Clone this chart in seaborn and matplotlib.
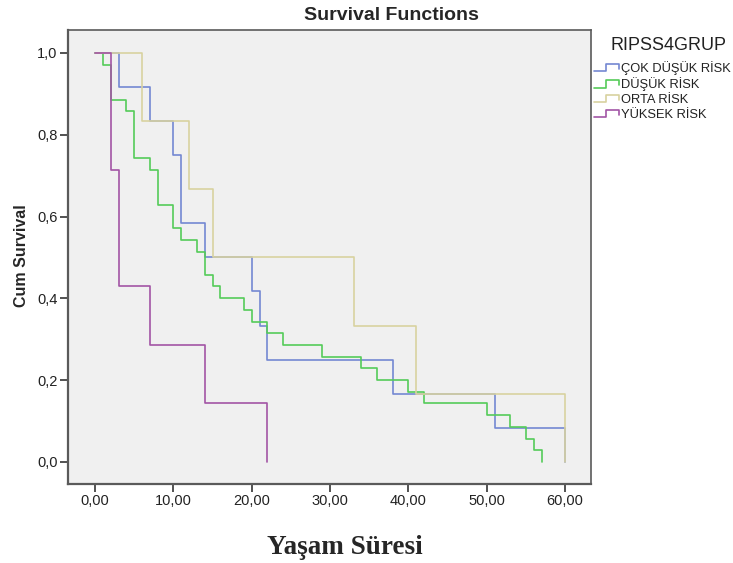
import matplotlib
matplotlib.use("Agg")
import matplotlib.pyplot as plt
from matplotlib.lines import Line2D
from matplotlib.legend_handler import HandlerBase
import seaborn as sns
import pandas as pd

# ---- data ----
groups = ["ÇOK DÜŞÜK RİSK", "DÜŞÜK RİSK", "ORTA RİSK", "YÜKSEK RİSK"]

cok_dusuk_time = [0, 3, 7, 10, 11, 14, 20, 21, 22, 38, 51, 60]
cok_dusuk_surv = [1.0, 0.917, 0.833, 0.750, 0.583, 0.500, 0.417, 0.333, 0.250, 0.167, 0.083, 0.0]

dusuk_time = [0, 1, 2, 4, 5, 7, 8, 10, 11, 13, 14, 15, 16, 19, 20, 22, 24, 29, 34, 36,
              40, 42, 50, 53, 55, 56, 57]
dusuk_surv = [1.0, 0.971, 0.886, 0.857, 0.743, 0.714, 0.629, 0.571, 0.543, 0.514, 0.457,
              0.429, 0.400, 0.371, 0.343, 0.314, 0.286, 0.257, 0.229, 0.200, 0.171, 0.143,
              0.114, 0.086, 0.057, 0.029, 0.0]

orta_time = [0, 6, 12, 15, 33, 41, 60]
orta_surv = [1.0, 0.833, 0.667, 0.500, 0.333, 0.167, 0.0]

yuksek_time = [0, 2, 3, 7, 14, 22]
yuksek_surv = [1.0, 0.714, 0.429, 0.286, 0.143, 0.0]

x_ticks = [0, 10, 20, 30, 40, 50, 60]
x_tick_labels = ["0,00", "10,00", "20,00", "30,00", "40,00", "50,00", "60,00"]
y_ticks = [0.0, 0.2, 0.4, 0.6, 0.8, 1.0]
y_tick_labels = ["0,0", "0,2", "0,4", "0,6", "0,8", "1,0"]

colors = ["#7488D2", "#55CB59", "#D8D2A0", "#A255A5"]

# ---- build table ----
frames = []
for g, t, s in zip(groups,
                   [cok_dusuk_time, dusuk_time, orta_time, yuksek_time],
                   [cok_dusuk_surv, dusuk_surv, orta_surv, yuksek_surv]):
    frames.append(pd.DataFrame({"group": g, "time": t, "surv": s}))
df = pd.concat(frames, ignore_index=True)

sns.set_style("ticks")
plt.rcParams["font.family"] = ["Liberation Sans", "DejaVu Sans"]

W, H = 733, 563
L, R, T, B = 68, 591, 30, 484
fig = plt.figure(figsize=(W / 100, H / 100), dpi=100)
fig.patch.set_facecolor("white")
ax = fig.add_axes([L / W, (H - B) / H, (R - L) / W, (B - T) / H])
ax.set_facecolor("#F0F0F0")

sns.lineplot(data=df, x="time", y="surv", hue="group", hue_order=groups,
             palette=colors, drawstyle="steps-post", estimator=None, sort=False,
             linewidth=1.2, legend=False, ax=ax)

ax.set_xlim(-3.45, 63.3)
ax.set_ylim(-0.054, 1.056)
ax.set_xticks(x_ticks)
ax.set_xticklabels(x_tick_labels)
ax.set_yticks(y_ticks)
ax.set_yticklabels(y_tick_labels)
ax.tick_params(axis="both", direction="out", length=5.5, width=1.2, color="#333333",
               labelsize=10.5, labelcolor="#222222", pad=2)
ax.set_xlabel("")
ax.set_ylabel("")
for name, sp in ax.spines.items():
    sp.set_visible(True)
    sp.set_color("#5A5A5A")
    sp.set_linewidth(1.6 if name in ("left", "bottom") else 1.2)
ax.grid(False)

fig.text(391 / W, 1 - 16 / H, "Survival Functions", ha="center", va="center",
         fontsize=14, fontweight="bold")
fig.text(22 / W, 1 - 256 / H, "Cum Survival", ha="center", va="center",
         rotation=90, fontsize=11.5, fontweight="bold")
fig.text(345 / W, 1 - 547 / H, "Yaşam Süresi", ha="center", va="center",
         fontsize=19.5, fontweight="bold", family=["Liberation Serif", "DejaVu Serif"])
fig.text(669 / W, 1 - 45 / H, "RIPSS4GRUP", ha="center", va="center",
         fontsize=13, color="#222222")


class StepHandler(HandlerBase):
    def create_artists(self, legend, orig_handle, xdescent, ydescent, width, height,
                       fontsize, trans):
        x0 = -xdescent
        y0 = -ydescent
        xs = [x0, x0 + 0.45 * width, x0 + 0.45 * width, x0 + 0.95 * width, x0 + 0.95 * width]
        ys = [y0 + 0.1 * height, y0 + 0.1 * height, y0 + 0.9 * height, y0 + 0.9 * height,
              y0 + 0.35 * height]
        ln = Line2D(xs, ys, color=orig_handle.get_color(),
                    linewidth=orig_handle.get_linewidth())
        ln.set_transform(trans)
        return [ln]


handles = [Line2D([], [], color=c, linewidth=1.2) for c in colors]
leg = fig.legend(handles, groups, loc="upper left",
                 bbox_to_anchor=(594 / W, 1 - 61 / H), frameon=False,
                 fontsize=9.3, borderpad=0,
                 handlelength=2.0, handletextpad=0.1, labelspacing=0.2,
                 borderaxespad=0, handler_map={Line2D: StepHandler()})
for t in leg.get_texts():
    t.set_color("#222222")

fig.savefig("out.png", dpi=100)
